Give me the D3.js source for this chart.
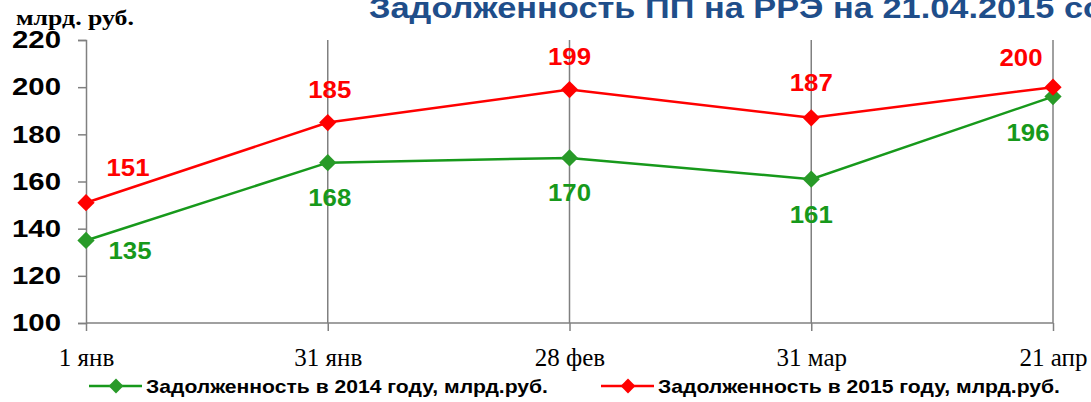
<!DOCTYPE html>
<html>
<head>
<meta charset="utf-8">
<script src="https://cdn.jsdelivr.net/npm/d3@7"></script>
<style>
  html, body { margin: 0; padding: 0; background: #fff; overflow: hidden; }
  svg { display: block; }
</style>
</head>
<body>
<svg id="chart" width="1091" height="402"></svg>
<script>
// Data
const categories = ["1 янв", "31 янв", "28 фев", "31 мар", "21 апр"];
const debt2014 = [135, 168, 170, 161, 196];
const debt2015 = [151, 185, 199, 187, 200];
const yTicks = [100, 120, 140, 160, 180, 200, 220];
const seriesNames = ["Задолженность в 2014 году, млрд.руб.", "Задолженность в 2015 году, млрд.руб."];
const titleText = "Задолженность ПП на РРЭ на 21.04.2015 со";
const unitText = "млрд. руб.";

const svg = d3.select("#chart");

const x = d3.scalePoint().domain(categories).range([86, 1053]);
const y = d3.scaleLinear().domain([100, 220]).range([323, 40]);

const green = "#17991b", greenMarker = "#289a28", red = "#ff0000";
const axisGray = "#808080";
const sans = "Liberation Sans, Arial, sans-serif";
const serif = "Liberation Serif, Times New Roman, serif";

// Title (runs past the right edge of the canvas)
svg.append("text")
  .attr("x", 369).attr("y", 18)
  .attr("font-family", sans)
  .attr("font-weight", "bold").attr("font-size", 30)
  .attr("fill", "#1f4e8a")
  .attr("textLength", 735).attr("lengthAdjust", "spacingAndGlyphs")
  .text(titleText);

// Unit label
svg.append("text")
  .attr("x", 16).attr("y", 25)
  .attr("font-family", serif)
  .attr("font-weight", "bold").attr("font-size", 21)
  .attr("fill", "#000")
  .attr("textLength", 118).attr("lengthAdjust", "spacingAndGlyphs")
  .text(unitText);

// Vertical grid lines at categories
svg.append("g").selectAll("line").data(categories.slice(1)).join("line")
  .attr("x1", d => x(d)).attr("x2", d => x(d))
  .attr("y1", y(220)).attr("y2", y(100))
  .attr("stroke", axisGray).attr("stroke-width", 1.5);

// Y axis
const yAxis = svg.append("g").attr("transform", `translate(${x(categories[0])},0)`)
  .call(d3.axisLeft(y).tickValues(yTicks).tickSize(8).tickPadding(17));
yAxis.select(".domain").attr("stroke", axisGray).attr("stroke-width", 1.5);
yAxis.selectAll(".tick line").attr("stroke", axisGray).attr("stroke-width", 1.5);
yAxis.selectAll(".tick text")
  .attr("font-family", sans)
  .attr("font-weight", "bold").attr("font-size", 24).attr("fill", "#000")
  .attr("textLength", 49).attr("lengthAdjust", "spacingAndGlyphs");

// X axis
const xAxis = svg.append("g").attr("transform", `translate(0,${y(100)})`)
  .call(d3.axisBottom(x).tickSize(8).tickPadding(17));
xAxis.select(".domain").attr("stroke", axisGray).attr("stroke-width", 1.5)
  .attr("d", `M${x(categories[0])},0H${x(categories[categories.length - 1])}`);
xAxis.selectAll(".tick line").attr("stroke", axisGray).attr("stroke-width", 1.5);
xAxis.selectAll(".tick text")
  .attr("font-family", serif)
  .attr("font-size", 25).attr("fill", "#000");

const line = d3.line().x((d, i) => x(categories[i])).y(d => y(d));
const diamond = d3.symbol().type(d3.symbolDiamond2).size(190);

function drawSeries(values, stroke, marker) {
  svg.append("path").datum(values)
    .attr("d", line).attr("fill", "none")
    .attr("stroke", stroke).attr("stroke-width", 2.5);
  svg.append("g").selectAll("path").data(values).join("path")
    .attr("d", diamond)
    .attr("transform", (d, i) => `translate(${x(categories[i])},${y(d)})`)
    .attr("fill", marker);
}
drawSeries(debt2014, green, greenMarker);
drawSeries(debt2015, red, red);

// Data labels, offset from their points
const labelFont = g => g.attr("font-family", sans)
  .attr("font-weight", "bold").attr("font-size", 24).attr("text-anchor", "middle");
const off2015 = [[42, -27], [2, -25], [0, -25], [0, -27], [-32, -21]];
const off2014 = [[44, 19], [2, 43], [0, 43], [0, 44], [-25, 44]];
svg.append("g").call(labelFont).selectAll("text").data(debt2015).join("text")
  .attr("x", (d, i) => x(categories[i]) + off2015[i][0])
  .attr("y", (d, i) => y(d) + off2015[i][1])
  .attr("textLength", 43).attr("lengthAdjust", "spacingAndGlyphs")
  .attr("fill", red).text(d => d);
svg.append("g").call(labelFont).selectAll("text").data(debt2014).join("text")
  .attr("x", (d, i) => x(categories[i]) + off2014[i][0])
  .attr("y", (d, i) => y(d) + off2014[i][1])
  .attr("textLength", 43).attr("lengthAdjust", "spacingAndGlyphs")
  .attr("fill", green).text(d => d);

// Legend
const legendItems = [
  { name: seriesNames[0], stroke: green, marker: greenMarker, x0: 89 },
  { name: seriesNames[1], stroke: red, marker: red, x0: 601 }
];
const lg = svg.append("g").selectAll("g").data(legendItems).join("g")
  .attr("transform", d => `translate(${d.x0},386)`);
lg.append("line").attr("x1", 0).attr("x2", 53).attr("y1", 0).attr("y2", 0)
  .attr("stroke", d => d.stroke).attr("stroke-width", 2.5);
lg.append("path").attr("d", d3.symbol().type(d3.symbolDiamond2).size(140))
  .attr("transform", "translate(27,0)").attr("fill", d => d.marker);
lg.append("text").attr("x", 57).attr("y", 7)
  .attr("font-family", sans)
  .attr("font-weight", "bold").attr("font-size", 19).attr("fill", "#000")
  .attr("textLength", 402).attr("lengthAdjust", "spacingAndGlyphs")
  .text(d => d.name);
</script>
</body>
</html>
